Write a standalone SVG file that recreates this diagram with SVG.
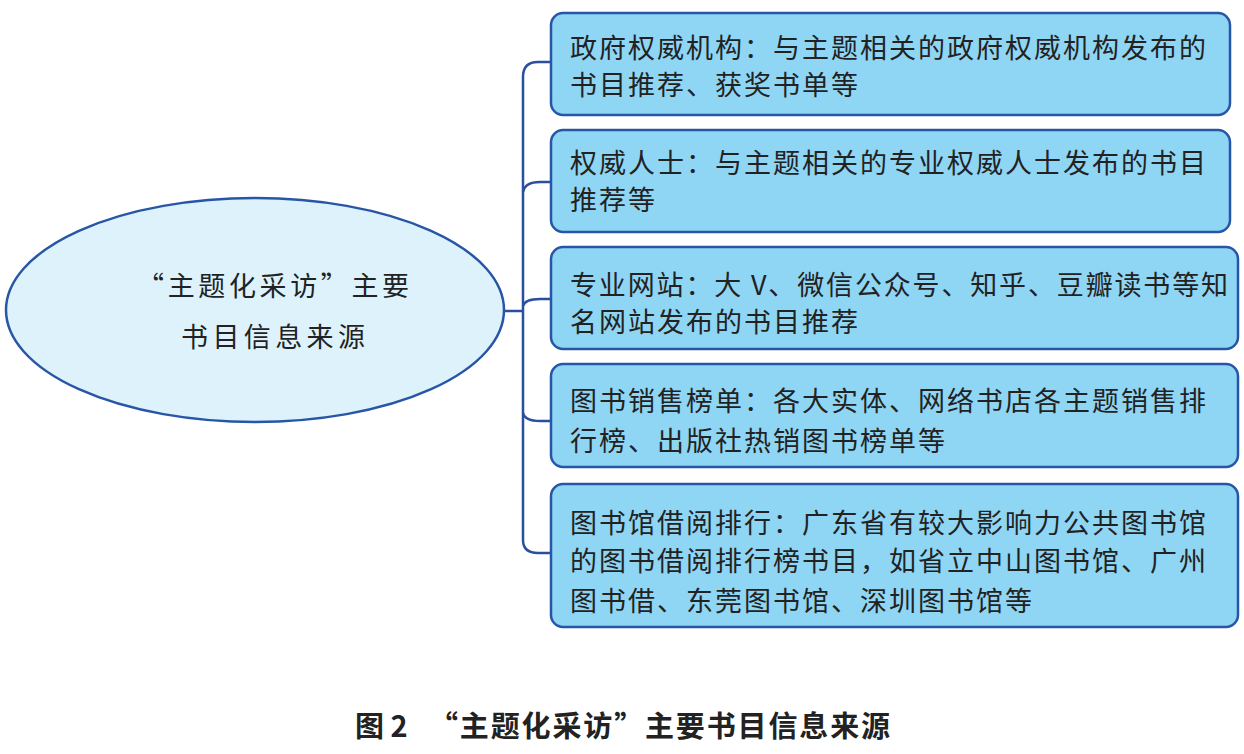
<svg xmlns="http://www.w3.org/2000/svg" width="1244" height="754" viewBox="0 0 1244 754">
<style>
.box{fill:#8fd6f5;stroke:#2856a6;stroke-width:2.5}
.ell{fill:#def2fc;stroke:#2856a6;stroke-width:2.5}
.conn{fill:none;stroke:#2a4f9f;stroke-width:2.5}
.t{font-family:"Noto Sans CJK SC","Noto Sans",sans-serif;font-size:27px;fill:#222;letter-spacing:2px}
.et{font-family:"Noto Sans CJK SC","Noto Sans",sans-serif;font-size:27px;fill:#222;letter-spacing:3px}
.cap{font-family:"Noto Sans CJK SC","Noto Sans",sans-serif;font-size:29px;font-weight:bold;fill:#222}
</style>
<rect width="1244" height="754" fill="#ffffff"/>
<g id="connectors">
<path class="conn" d="M504,311 L523,311"/>
<path class="conn" d="M551,62 L538,62 Q523,62 523,77 L523,540 Q523,553 538,553 L551,553"/>
<path class="conn" d="M551,182 L540,182 Q525,182 523,192"/>
<path class="conn" d="M551,299 L540,299 Q525,299 523,306"/>
<path class="conn" d="M523,413 Q525,421 540,421 L551,421"/>
</g>
<g id="root">
<ellipse class="ell" cx="255" cy="310" rx="249" ry="112"/>
<text class="et" x="137" y="296" textLength="275" lengthAdjust="spacing">“主题化采访”主要</text>
<text class="et" x="181" y="347" textLength="187" lengthAdjust="spacing">书目信息来源</text>
</g>
<g id="node1">
<rect class="box" x="551" y="13" width="679" height="102" rx="12"/>
<text class="t" x="570" y="58">政府权威机构：与主题相关的政府权威机构发布的</text>
<text class="t" x="570" y="95">书目推荐、获奖书单等</text>
</g>
<g id="node2">
<rect class="box" x="551" y="130" width="679" height="102" rx="12"/>
<text class="t" x="570" y="173">权威人士：与主题相关的专业权威人士发布的书目</text>
<text class="t" x="570" y="210">推荐等</text>
</g>
<g id="node3">
<rect class="box" x="551" y="247" width="687" height="102" rx="12"/>
<text class="t" x="570" y="295" textLength="660" lengthAdjust="spacing">专业网站：大 V、微信公众号、知乎、豆瓣读书等知</text>
<text class="t" x="570" y="332">名网站发布的书目推荐</text>
</g>
<g id="node4">
<rect class="box" x="551" y="364" width="687" height="103" rx="12"/>
<text class="t" x="570" y="411">图书销售榜单：各大实体、网络书店各主题销售排</text>
<text class="t" x="570" y="451">行榜、出版社热销图书榜单等</text>
</g>
<g id="node5">
<rect class="box" x="551" y="484" width="687" height="143" rx="12"/>
<text class="t" x="570" y="533">图书馆借阅排行：广东省有较大影响力公共图书馆</text>
<text class="t" x="570" y="571">的图书借阅排行榜书目，如省立中山图书馆、广州</text>
<text class="t" x="570" y="611">图书借、东莞图书馆、深圳图书馆等</text>
</g>
<g id="caption">
<text class="cap" y="737"><tspan x="355">图 2</tspan><tspan x="429" textLength="461" lengthAdjust="spacing">“主题化采访”主要书目信息来源</tspan></text>
</g>
</svg>
